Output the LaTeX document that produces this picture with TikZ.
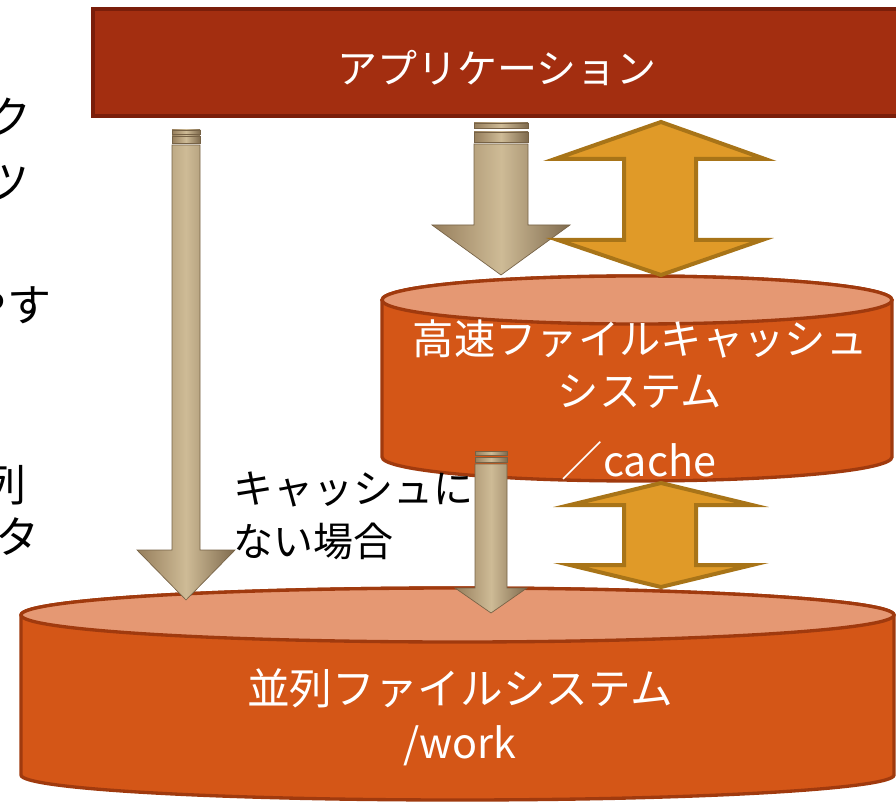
\documentclass[tikz,border=0pt]{standalone}
\usepackage{fontspec}
\setmainfont{Noto Sans CJK JP}
\usepackage{tikz}

\definecolor{appred}{RGB}{163,46,16}
\definecolor{appedge}{RGB}{122,30,10}
\definecolor{diskbody}{RGB}{212,86,23}
\definecolor{disktop}{RGB}{229,152,115}
\definecolor{diskedge}{RGB}{160,58,14}
\definecolor{syncfill}{RGB}{224,154,40}
\definecolor{syncedge}{RGB}{168,116,24}
\definecolor{iodark}{RGB}{150,126,92}
\definecolor{iolight}{RGB}{206,187,150}
\definecolor{ioedge}{RGB}{118,98,70}

\tikzset{
  diskline/.style={draw=diskedge,line width=2.5pt},
  syncarrow/.style={fill=syncfill,draw=syncedge,line width=3pt,line join=miter},
  ioarrow/.style={left color=iodark,right color=iodark!85!black,middle color=iolight,draw=ioedge,line width=0.5pt},
  bartext/.style={text=white,font=\fontsize{30}{39}\selectfont,inner sep=0pt},
  disktext/.style={text=white,font=\fontsize{31}{39}\selectfont,inner sep=0pt},
  notetext/.style={text=black,font=\fontsize{30}{40}\selectfont,inner sep=0pt},
  sidetext/.style={text=black,font=\fontsize{33}{40}\selectfont,inner sep=0pt,anchor=east}
}

\begin{document}
\begin{tikzpicture}[x=0.75pt,y=0.75pt]
\useasboundingbox (0,0) rectangle (896,801);

% application bar
\draw[fill=appred,draw=appedge,line width=3.5pt] (93,792) rectangle (905,685);
\node[bartext] (app) at (497,733) {アプリケーション};

% text cut off at the left
\node[sidetext] (side1) at (32,684) {ク};
\node[sidetext] (side2) at (30,618) {ツ};
\node[sidetext] (side3) at (52,496) {やす};
\node[sidetext] (side4) at (27,316) {列};
\node[sidetext] (side5) at (40,264) {タ};

% cache disk
\filldraw[fill=diskbody,diskline] (382,501) -- (382,344) arc (180:360:255 and 24) -- (892,501) arc (0:180:255 and 24) -- cycle;
\filldraw[fill=disktop,diskline] (637,501) ellipse (255 and 24);

% work disk
\filldraw[fill=diskbody,diskline] (21,186) -- (21,26) arc (180:360:436.5 and 25) -- (894,186) arc (0:180:436.5 and 27) -- cycle;
\filldraw[fill=disktop,diskline] (457.5,186) ellipse (436.5 and 27);

\node[notetext,align=left,anchor=west] (miss) at (233,285) {キャッシュに\\ない場合};

% direct access
\shadedraw[ioarrow] (172,671) rectangle (200,667);
\shadedraw[ioarrow] (172,665) rectangle (200,658);
\shadedraw[ioarrow] (172,656) -- (172,251) -- (137,251) -- (186,201) -- (235,251) -- (200,251) -- (200,656) -- cycle;

% through the cache
\shadedraw[ioarrow] (474,678) rectangle (528,673);
\shadedraw[ioarrow] (474,669) rectangle (528,659);
\shadedraw[ioarrow] (474,657) -- (474,576) -- (432,576) -- (501,526) -- (570,576) -- (528,576) -- (528,657) -- cycle;

% cache miss
\shadedraw[ioarrow] (475,350) rectangle (507,346);
\shadedraw[ioarrow] (475,344) rectangle (507,339);
\shadedraw[ioarrow] (475,337) -- (475,213) -- (455,213) -- (491,188) -- (527,213) -- (507,213) -- (507,337) -- cycle;

% sync arrows
\filldraw[syncarrow] (661,679) -- (765,642) -- (696,642) -- (696,561) -- (762,561) -- (661,526) -- (558,561) -- (624,561) -- (624,642) -- (555,642) -- cycle;
\filldraw[syncarrow] (661,318) -- (752,296) -- (696,296) -- (696,236) -- (752,236) -- (661,214) -- (570,236) -- (624,236) -- (624,296) -- (570,296) -- cycle;

% disk labels
\node[disktext,align=center] (cachename) at (640,437) {高速ファイルキャッシュ\\システム};
\node[disktext] (cachepath) at (639,340) {／cache};
\node[disktext,font=\fontsize{32}{39}\selectfont] (workname) at (460,113) {並列ファイルシステム};
\node[disktext] (workpath) at (460,55) {/work};
\end{tikzpicture}
\end{document}
